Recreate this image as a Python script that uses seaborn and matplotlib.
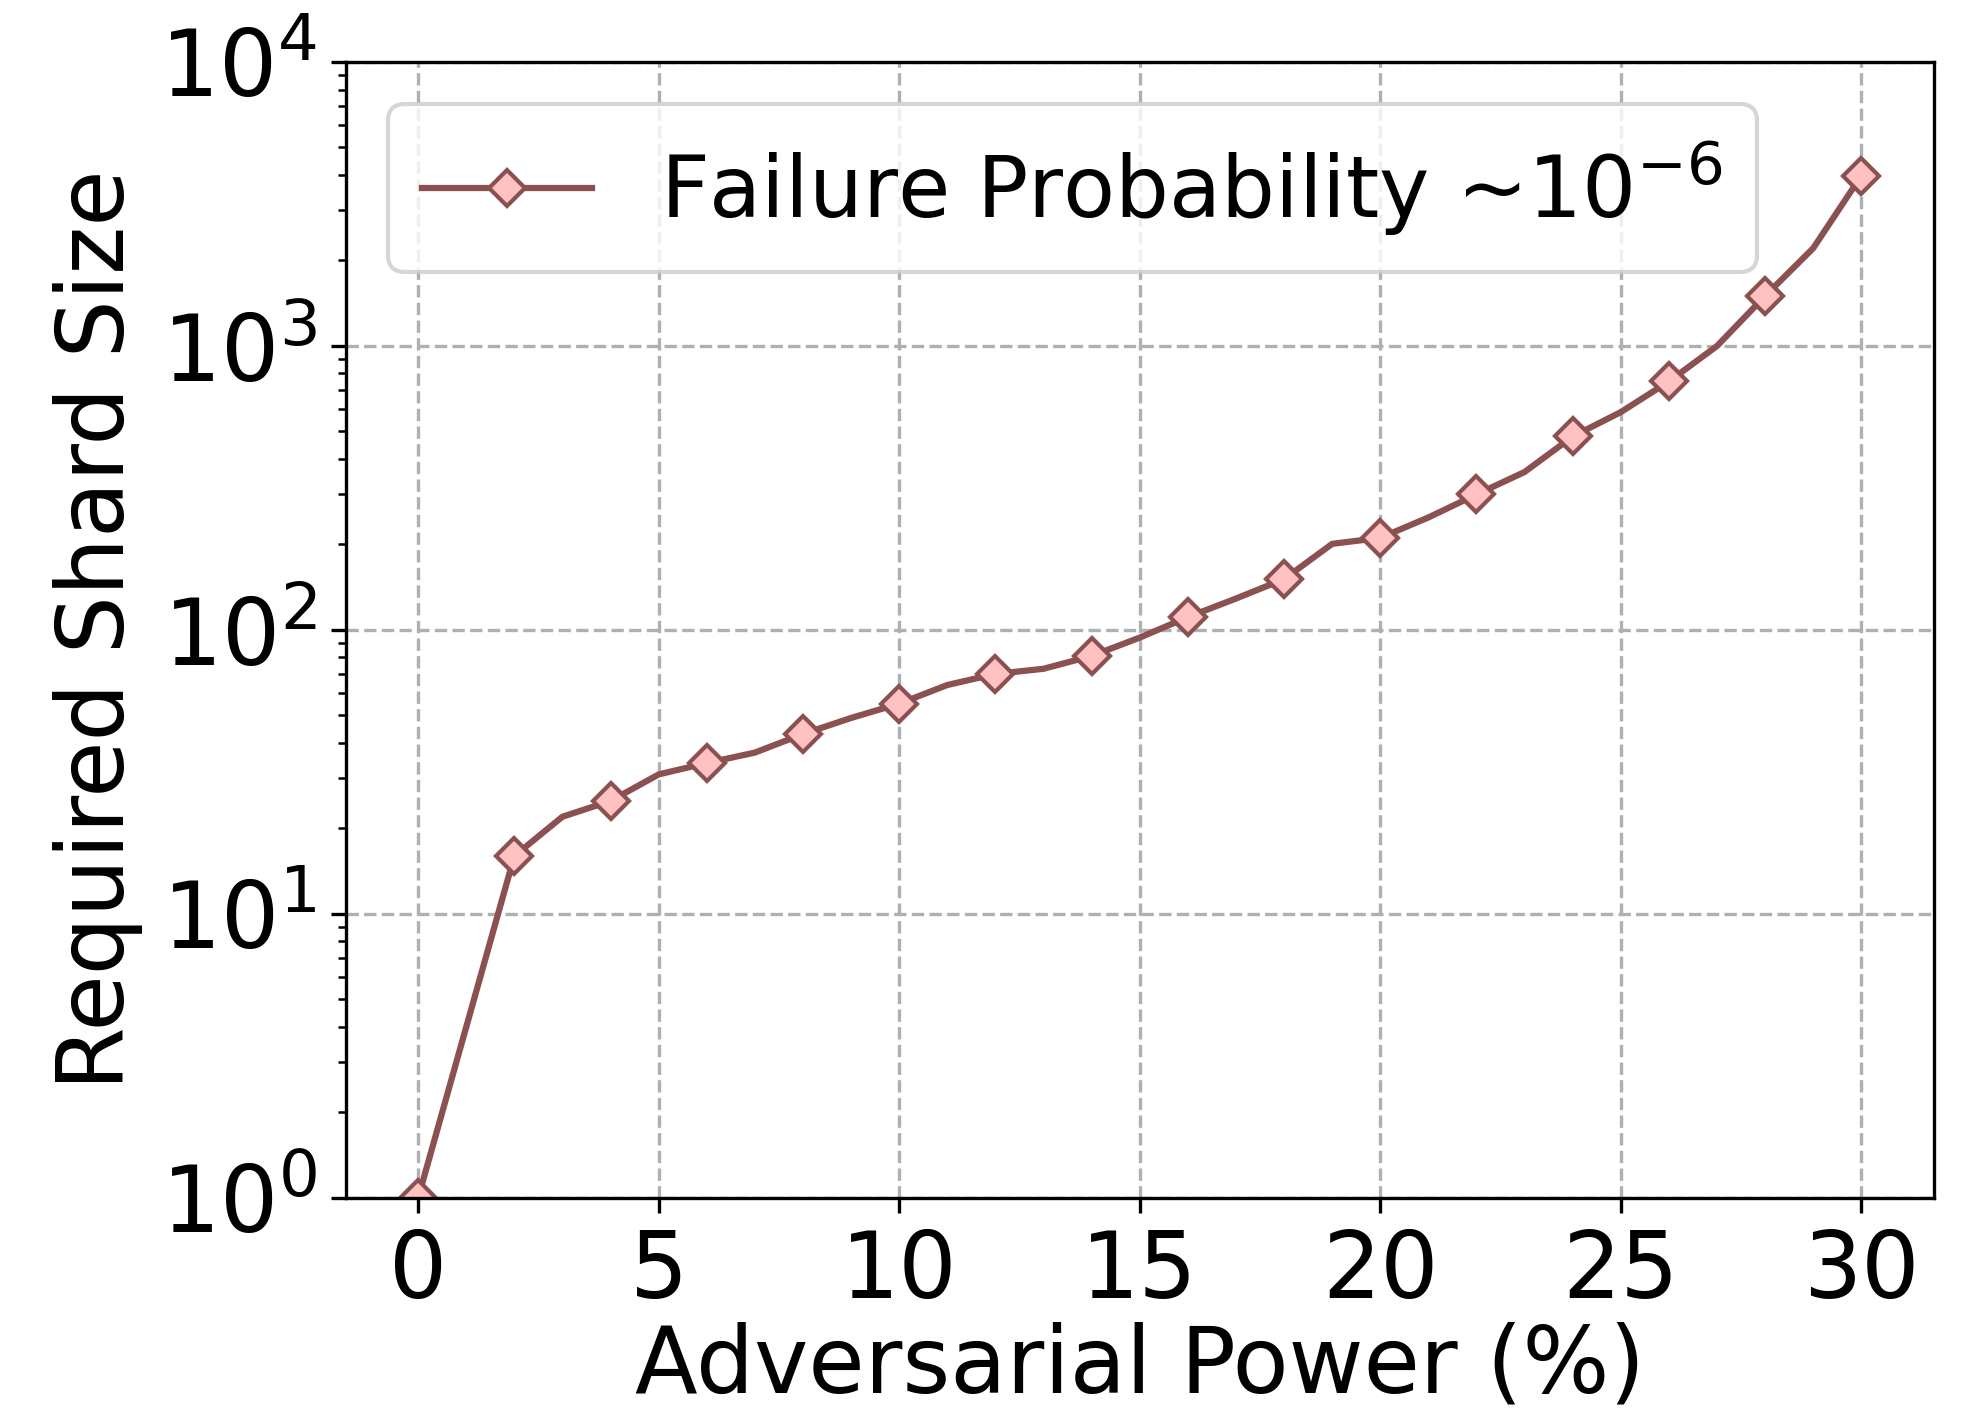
import seaborn as sns
import matplotlib.pyplot as plt
import pandas as pd

# adversarial power (%) vs required shard size
power = [0, 2, 3, 4, 5, 6, 7, 8, 9, 10, 11, 12, 13, 14, 15, 16, 17, 18, 19, 20,
         21, 22, 23, 24, 25, 26, 27, 28, 29, 30]
shard_size = [1, 16, 22, 25, 31, 34, 37, 43, 49, 55, 64, 70, 73, 81, 94, 111, 129, 151, 201, 211,
              249, 300, 360, 480, 585, 750, 1000, 1500, 2210, 3980]
series_label = r"Failure Probability ~$10^{-6}$"

df = pd.DataFrame({"power": power, "size": shard_size})
# markers only on the even x values
mark_idx = [i for i, p in enumerate(power) if p % 2 == 0]

plt.rcParams["font.family"] = ["DejaVu Sans"]

fig = plt.figure(figsize=(1977 / 300, 1412 / 300), dpi=300)
ax = fig.add_axes([0.175, 0.1516, 0.803, 0.8045])

sns.lineplot(data=df, x="power", y="size", ax=ax, color="#8b5050", linewidth=1.5,
             marker="D", markersize=6, markerfacecolor="#ffc1c1", markeredgecolor="#8b5050",
             markeredgewidth=1.0, markevery=mark_idx, label=series_label)

ax.set_yscale("log")
ax.set_ylim(1, 1e4)
ax.set_xlim(-1.5, 31.5)
ax.set_xticks([0, 5, 10, 15, 20, 25, 30])
ax.grid(True, which="major", linestyle="--", color="#b0b0b0", linewidth=0.8)
ax.tick_params(axis="both", labelsize=22)
ax.set_xlabel("Adversarial Power (%)", fontsize=22, labelpad=1)
ax.set_ylabel("Required Shard Size", fontsize=22)
ax.legend(loc="upper left", fontsize=20.4)

fig.savefig("out.png", dpi=300)
